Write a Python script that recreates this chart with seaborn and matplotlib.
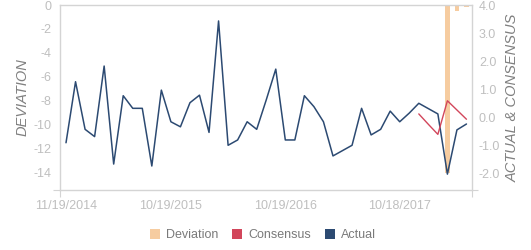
import numpy as np
import pandas as pd
import matplotlib
matplotlib.use("Agg")
import matplotlib.pyplot as plt
import seaborn as sns
from matplotlib.patches import Patch

# ---- data ----
actual = [-0.92, 1.26, -0.44, -0.70, 1.82, -1.68, 0.76, 0.31, 0.31, -1.75,
          0.96, -0.17, -0.35, 0.51, 0.78, -0.55, 3.43, -1.01, -0.82, -0.17,
          -0.44, 0.61, 1.71, -0.82, -0.82, 0.76, 0.37, -0.17, -1.39, -1.20,
          -1.01, 0.31, -0.64, -0.44, 0.21, -0.17, 0.14, 0.49, 0.30, 0.11,
          -2.04, -0.46, -0.25]
consensus = [None] * 37 + [0.11, -0.26, -0.62, 0.58, 0.25, -0.08]
deviation = [None] * 40 + [-14.0, -0.47, -0.15]
start_month = "2014-11"
tick_months = ["2014-11", "2015-10", "2016-10", "2017-10"]
tick_labels = ["11/19/2014", "10/19/2015", "10/19/2016", "10/18/2017"]
left_ticks = [0, -2, -4, -6, -8, -10, -12, -14]
right_ticks = [4.0, 3.0, 2.0, 1.0, 0.0, -1.0, -2.0]

# ---- style ----
sns.set_style("white")
plt.rcParams["font.family"] = ["Liberation Sans", "DejaVu Sans"]

c_bar = "#F6CCA0"
c_red = "#D2465B"
c_blue = "#2C4A72"
c_tick = "#BFBFBF"
c_title = "#808080"
c_spine = "#D4D4D4"

n = len(actual)
months = pd.period_range(start_month, periods=n, freq="M").astype(str).tolist()
df = pd.DataFrame({"x": np.arange(n), "month": months,
                   "Actual": pd.array(actual, dtype="float"),
                   "Consensus": pd.array(consensus, dtype="float"),
                   "Deviation": pd.array(deviation, dtype="float")})

fig = plt.figure(figsize=(5.31, 2.5), dpi=100)
ax = fig.add_axes([60 / 531, 60 / 250, 412 / 531, 185 / 250])

sns.barplot(data=df, x="month", y="Deviation", order=months,
            width=0.5, color=c_bar, saturation=1, ax=ax, linewidth=0)
bar_w = 0.5
for p in ax.patches:
    cx = p.get_x() + p.get_width() / 2
    p.set_width(bar_w)
    p.set_x(cx - bar_w / 2)

ax2 = ax.twinx()
sns.lineplot(data=df, x="x", y="Actual", ax=ax2, color=c_blue, lw=1.1)
sns.lineplot(data=df.dropna(subset=["Consensus"]), x="x", y="Consensus",
             ax=ax2, color=c_red, lw=1.0)

xlo, xhi = -0.63, 42.58
ax.set_xlim(xlo, xhi)
ax2.set_xlim(xlo, xhi)
ylo_l = -15.42
ylo_r = -2.607
ax.set_ylim(ylo_l, 0)
ax2.set_ylim(ylo_r, 4.0)

# x ticks
tick_pos = [months.index(m) for m in tick_months]
ax.set_xticks(tick_pos)
ax.set_xticklabels(tick_labels)
ax.set_xlabel("")

# y ticks
ax.set_yticks(left_ticks)
ax.set_yticklabels([f"{v:g}" for v in left_ticks])
ax2.set_yticks(right_ticks)
ax2.set_yticklabels([f"{v:.1f}" for v in right_ticks])

ax.tick_params(axis="both", which="major", length=0, labelsize=9,
               labelcolor=c_tick)
ax.tick_params(axis="x", pad=7)
ax.tick_params(axis="y", pad=6)
ax2.tick_params(axis="y", which="major", length=0, labelsize=9,
                labelcolor=c_tick, pad=5)

# corner overshoot ticks
ax.set_yticks([0, ylo_l], minor=True)
ax.set_xticks([xlo, xhi], minor=True)
ax.tick_params(which="minor", length=5, width=0.8, color=c_spine,
               left=True, bottom=True, direction="out")
ax2.set_yticks([4.0, ylo_r], minor=True)
ax2.tick_params(which="minor", length=4, width=0.8, color=c_spine,
                right=True, direction="out")

for sp in ax.spines.values():
    sp.set_visible(True)
    sp.set_color(c_spine)
    sp.set_linewidth(1.0)
for sp in ax2.spines.values():
    sp.set_visible(False)

ax.set_ylabel("DEVIATION", fontsize=10.5, style="italic", color=c_title,
              labelpad=3)
ax2.set_ylabel("ACTUAL & CONSENSUS", fontsize=10.5, style="italic",
               color=c_title, labelpad=4)

handles = [Patch(facecolor=c_bar, edgecolor="none"),
           Patch(facecolor=c_red, edgecolor="none"),
           Patch(facecolor=c_blue, edgecolor="none")]
leg = fig.legend(handles, ["Deviation", "Consensus", "Actual"],
                 loc="center", bbox_to_anchor=(263 / 531, 1 - 235 / 250),
                 ncol=3, frameon=False, fontsize=9, handlelength=0.8,
                 handleheight=0.8, handletextpad=0.5, columnspacing=1.1,
                 labelcolor="#7A7A7A")

fig.savefig("out.png", dpi=100)
